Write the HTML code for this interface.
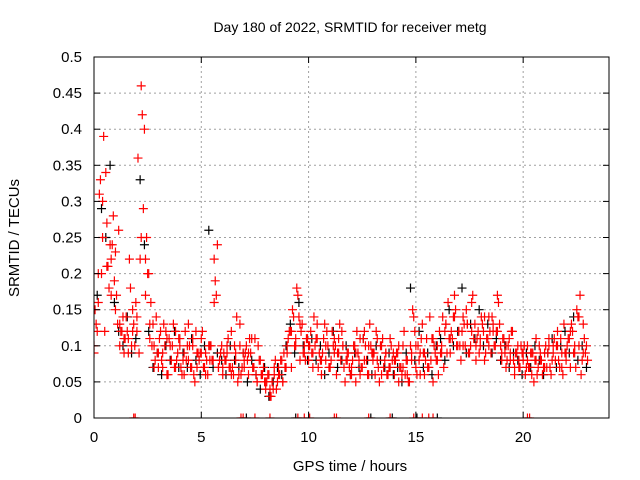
<!DOCTYPE html>
<html><head><meta charset="utf-8"><style>
html,body{margin:0;padding:0;background:#fff;}
svg{display:block;font-family:"Liberation Sans",sans-serif;}
</style></head><body>
<svg id="chart" width="640" height="480" viewBox="0 0 640 480" xmlns="http://www.w3.org/2000/svg">
<rect width="640" height="480" fill="#fff"/>
<text x="350" y="32" font-size="14" text-anchor="middle">Day 180 of 2022, SRMTID for receiver metg</text>
<text x="350" y="471" font-size="15" text-anchor="middle">GPS time / hours</text>
<text transform="translate(19,238) rotate(-90)" font-size="15" text-anchor="middle">SRMTID / TECUs</text>
<defs><clipPath id="pc"><rect x="94" y="57" width="515" height="361"/></clipPath></defs>
<g id="grid"></g>
<g id="pts" clip-path="url(#pc)"></g>
<rect x="94" y="57" width="515" height="361" fill="none" stroke="#000" stroke-width="1"/>
<g id="ticks"></g>
</svg>
<script>
const xTicks=[0,5,10,15,20];
const yTicks=[0,0.05,0.1,0.15,0.2,0.25,0.3,0.35,0.4,0.45,0.5];
const yTickLabels=["0","0.05","0.1","0.15","0.2","0.25","0.3","0.35","0.4","0.45","0.5"];
const red1=[0.10,0.13,0.20,0.33,0.25,0.12,0.27,0.18,0.22,0.28,
0.15,0.13,0.10,0.12,0.09,0.14,0.11,0.18,0.12,0.10,
0.14,0.09,0.46,0.29,0.22,0.20,0.13,0.10,0.07,0.14,
0.09,0.12,0.07,0.10,0.06,0.11,0.08,0.13,0.07,0.09,
0.11,0.06,0.09,0.08,0.13,0.07,0.10,0.05,0.09,0.08,
0.11,0.07,0.09,0.06,0.10,0.08,0.22,0.17,0.07,0.09,
0.06,0.08,0.10,0.07,0.12,0.06,0.09,0.05,0.13,0.07,
0.08,0.10,0.06,0.09,0.07,0.11,0.05,0.08,0.06,0.07,
0.04,0.06,0.03,0.05,0.07,0.04,0.06,0.08,0.05,0.07,
0.09,0.12,0.07,0.14,0.10,0.17,0.08,0.13,0.09,0.11,
0.08,0.12,0.07,0.10,0.13,0.09,0.06,0.11,0.08,0.10,
0.07,0.12,0.09,0.06,0.11,0.08,0.10,0.05,0.09,0.07,
0.06,0.10,0.05,0.09,0.11,0.07,0.12,0.08,0.06,0.10,
0.09,0.06,0.08,0.05,0.10,0.07,0.09,0.06,0.11,0.08,
0.06,0.09,0.05,0.07,0.10,0.06,0.08,0.05,0.09,0.14,
0.07,0.10,0.06,0.13,0.09,0.11,0.07,0.08,0.05,0.09,
0.08,0.12,0.10,0.07,0.13,0.16,0.09,0.11,0.17,0.10,
0.12,0.08,0.14,0.10,0.13,0.09,0.16,0.11,0.08,0.12,
0.10,0.13,0.08,0.11,0.14,0.09,0.12,0.10,0.17,0.13,
0.09,0.11,0.07,0.10,0.08,0.12,0.06,0.09,0.07,0.10,
0.08,0.06,0.10,0.07,0.09,0.05,0.11,0.07,0.08,0.06,
0.09,0.07,0.11,0.06,0.10,0.08,0.12,0.07,0.09,0.13,
0.08,0.11,0.07,0.12,0.09,0.15,0.10,0.06,0.13,0.09,
0.08];
const red2=[0.15,0.31,0.39,0.21,0.24,0.17,0.12,0.11,0.22,0.13,
0.36,0.42,0.25,0.16,0.08,0.11,0.13,0.06,0.10,0.08,
0.07,0.12,0.10,0.06,0.09,0.12,0.08,0.10,0.19,0.08,
0.09,0.11,0.07,0.14,0.06,0.09,0.11,0.07,0.10,0.06,
0.05,0.03,0.08,0.06,0.09,0.11,0.15,0.18,0.12,0.08,
0.10,0.14,0.07,0.09,0.12,0.08,0.10,0.13,0.07,0.09,
0.08,0.12,0.07,0.10,0.13,0.09,0.07,0.11,0.06,0.10,
0.08,0.07,0.12,0.05,0.15,0.06,0.11,0.08,0.14,0.10,
0.06,0.14,0.09,0.12,0.15,0.10,0.13,0.09,0.17,0.11,
0.14,0.09,0.12,0.10,0.16,0.11,0.08,0.12,0.09,0.07,
0.10,0.07,0.09,0.06,0.08,0.10,0.07,0.11,0.08,0.06,
0.10,0.13,0.07,0.17,0.11];
const red3=[0.12,0.20,0.34,0.24,0.19,0.26,0.14,0.12,0.10,0.16,
0.22,0.40,0.20,0.13,0.09,0.08,0.12,0.10,0.07,0.11,
0.08,0.10,0.07,0.12,0.09,0.07,0.10,0.08,0.24,0.10,
0.08,0.07,0.10,0.06,0.09,0.08,0.11,0.06,0.08,0.05,
0.06,0.04,0.05,0.08,0.07,0.12,0.10,0.14,0.09,0.11,
0.09,0.11,0.08,0.13,0.07,0.10,0.09,0.12,0.08,0.06,
0.10,0.08,0.11,0.06,0.09,0.12,0.10,0.08,0.07,0.09,
0.09,0.06,0.08,0.10,0.12,0.08,0.09,0.07,0.11,0.08,
0.09,0.12,0.11,0.14,0.10,0.12,0.15,0.10,0.13,0.09,
0.12,0.11,0.14,0.12,0.10,0.09,0.11,0.08,0.10,0.09,
0.07,0.09,0.08,0.10,0.07,0.09,0.08,0.10,0.11,0.09,
0.11,0.09,0.14,0.08,0.10];
const red4=[0.09,0.16,0.30,0.21,0.17,0.23,0.13,0.11,0.09,0.15,
0.12,0.25,0.17,0.11,0.10,0.07,0.09,0.11,0.08,0.12,
0.10,0.06,0.08,0.11,0.07,0.09,0.06,0.08,0.16,0.07,
0.07,0.09,0.06,0.08,0.10,0.07,0.09,0.07,0.05,0.06,
0.05,0.04,0.06,0.07,0.05,0.10,0.12,0.11,0.13,0.10,
0.10,0.09,0.11,0.08,0.10,0.07,0.11,0.09,0.10,0.08,
0.07,0.09,0.06,0.08,0.10,0.08,0.11,0.06,0.09,0.07,
0.08,0.10,0.07,0.06,0.08,0.10,0.09,0.06,0.07,0.11,
0.10,0.09,0.13,0.11,0.14,0.12,0.10,0.13,0.12,0.10,
0.11,0.14,0.10,0.13,0.12,0.08,0.10,0.09,0.07,0.08,
0.09,0.08,0.06,0.08,0.09,0.07,0.10,0.09,0.10,0.07,
0.09,0.12,0.10,0.14,0.09];
const blk=[0.17,0.29,0.25,0.35,0.16,0.12,0.10,0.14,0.09,0.11,
0.33,0.24,0.12,0.07,0.09,0.06,0.10,0.08,0.12,0.07,
0.09,0.07,0.11,0.08,0.06,0.10,0.26,0.07,0.09,0.08,
0.06,0.10,0.08,0.07,0.09,0.05,0.08,0.06,0.04,0.07,
0.03,0.05,0.07,0.06,0.10,0.13,0.09,0.16,0.10,0.08,
0.11,0.08,0.10,0.06,0.09,0.12,0.07,0.08,0.10,0.06,
0.09,0.07,0.11,0.08,0.06,0.10,0.08,0.07,0.09,0.06,
0.07,0.05,0.09,0.18,0.08,0.12,0.07,0.09,0.06,0.10,
0.11,0.08,0.15,0.10,0.12,0.18,0.09,0.13,0.11,0.15,
0.10,0.13,0.09,0.11,0.08,0.10,0.07,0.09,0.08,0.06,
0.09,0.07,0.10,0.08,0.06,0.09,0.11,0.07,0.10,0.12,
0.09,0.14,0.08,0.10,0.07];
const redZeroT=[1.85,1.92,6.85,6.95,7.5,8.2,9.5,9.8,10.05,11.2,11.3,12.8,13.8,14.9,15.3,15.6,15.8,20.2,20.3];
const blkZeroT=[7.1,9.4,12.9,13.9,15.05,16.0];

const X0=94,X1=609,Y0=418,Y1=57,XMAX=24,YMAX=0.5;
function sx(t){return X0+(X1-X0)*t/XMAX;}
function sy(v){return Y0-(Y0-Y1)*v/YMAX;}
const NS="http://www.w3.org/2000/svg";
function mk(tag,attrs,parent){const e=document.createElementNS(NS,tag);for(const k in attrs)e.setAttribute(k,attrs[k]);parent.appendChild(e);return e;}
const grid=document.getElementById('grid'),ticks=document.getElementById('ticks'),pts=document.getElementById('pts');
xTicks.forEach(function(t){
  const x=sx(t);
  if(t>0){const g=mk('line',{x1:x,y1:Y0,x2:x,y2:Y1,stroke:'#a0a0a0','stroke-dasharray':'2,3'},grid);
  
  }
  mk('line',{x1:x,y1:Y0,x2:x,y2:Y0-6,stroke:'#000'},ticks);
  mk('line',{x1:x,y1:Y1,x2:x,y2:Y1+6,stroke:'#000'},ticks);
  const l=mk('text',{x:x,y:Y0+24,'font-size':'15','text-anchor':'middle'},ticks);
  l.textContent=String(t);
  
  
});
yTicks.forEach(function(v,i){
  const y=sy(v);
  if(v>0&&v<YMAX){const g=mk('line',{x1:X0,y1:y,x2:X1,y2:y,stroke:'#a0a0a0','stroke-dasharray':'2,3'},grid);
  
  }
  mk('line',{x1:X0,y1:y,x2:X0+6,y2:y,stroke:'#000'},ticks);
  mk('line',{x1:X1,y1:y,x2:X1-6,y2:y,stroke:'#000'},ticks);
  const l=mk('text',{x:X0-12,y:y+5,'font-size':'15','text-anchor':'end'},ticks);
  l.textContent=yTickLabels[i];
  
  
});
function plus(t,v,color,name){
  const x=sx(t),y=sy(v);
  const p=mk('path',{d:'M'+(x-4.5)+' '+y+'H'+(x+4.5)+'M'+x+' '+(y-4.5)+'V'+(y+4.5),stroke:color,'stroke-width':'1.2',fill:'none'},pts);
  
  
}
blk.forEach(function(v,i){plus(0.15+0.2*i,v,'#000','black-point');});
blkZeroT.forEach(function(t){plus(t,0,'#000','black-zero-point');});
red1.forEach(function(v,i){plus(0.1*i,v,'#ff0000','red-point');});
red2.forEach(function(v,i){plus(0.05+0.2*i,v,'#ff0000','red-point');});
red3.forEach(function(v,i){plus(0.15+0.2*i,v,'#ff0000','red-point');});
red4.forEach(function(v,i){plus(0.2*i,v,'#ff0000','red-point');});
redZeroT.forEach(function(t){plus(t,0,'#ff0000','red-zero-point');});
</script>
</body></html>
